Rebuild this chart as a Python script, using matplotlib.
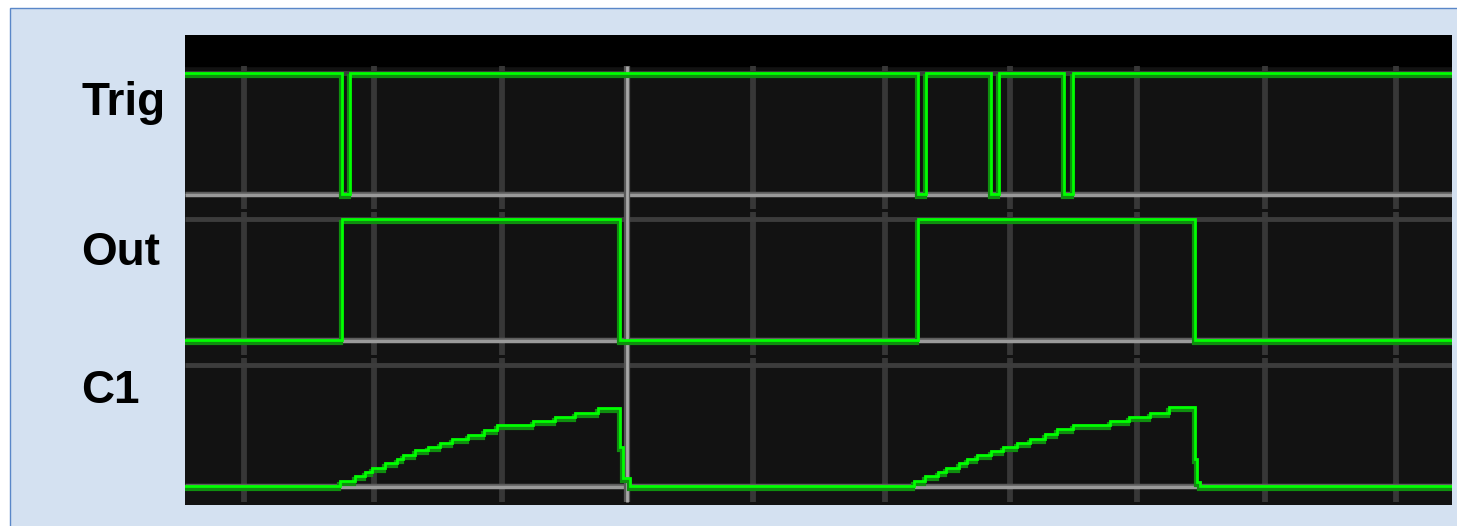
import matplotlib
matplotlib.use("Agg")
import matplotlib.pyplot as plt
from matplotlib.patches import Rectangle
import matplotlib.transforms as mtransforms

# time axis (grid division ~ 10 units)
t_start, t_end = -4.6, 94.4
grid_t = [0, 10.2, 20.2, 39.8, 50.1, 59.9, 69.8, 79.8, 90.0]
cursor_t = 29.9

# Trig: high with short low pulses
trig_t = [t_start, 7.7, 8.3, 52.7, 53.3, 58.4, 59.0, 64.1, 64.8, t_end]
trig_v = [1, 0, 1, 0, 1, 0, 1, 0, 1, 1]

# Out: one-shot output
out_t = [t_start, 7.7, 29.4, 52.7, 74.3, t_end]
out_v = [0, 1, 0, 1, 0, 0]

# C1: capacitor voltage (fraction of row full scale), staircase
c1_t = [t_start, 7.5, 8.7, 9.5, 10.0, 11.0, 12.0, 12.4, 13.4, 14.4, 15.3, 16.3,
        17.5, 18.8, 19.8, 22.6, 24.3, 25.9, 27.7, 29.4, 29.6, 30.2,
        52.4, 53.2, 54.2, 54.9, 55.9, 56.5, 57.3, 58.4, 59.3, 60.4, 61.4,
        62.6, 63.5, 64.8, 67.7, 69.2, 70.8, 72.3, 74.3, 74.5, 74.7, t_end]
c1_v = [0, 0.04, 0.083, 0.116, 0.149, 0.19, 0.223, 0.256, 0.298, 0.322, 0.355, 0.388,
        0.421, 0.463, 0.504, 0.537, 0.570, 0.603, 0.645, 0.322, 0.066, 0,
        0.041, 0.083, 0.116, 0.149, 0.19, 0.223, 0.256, 0.289, 0.322, 0.355, 0.388,
        0.43, 0.471, 0.504, 0.537, 0.570, 0.603, 0.653, 0.223, 0.033, 0, 0]

labels = ["Trig", "Out", "C1"]

W, H = 1457, 526
fig = plt.figure(figsize=(W / 100, H / 100), dpi=100, facecolor="white")
fig.patches.append(Rectangle((10 / W, -0.01), 1.0, (H - 8) / H + 0.01,
                             transform=fig.transFigure,
                             facecolor="#d4e1f1", edgecolor="#5a87c8", linewidth=1.0,
                             zorder=-10))

# plot area in pixels: x 185..1452, y 35..505 (from top)
ax = fig.add_axes([185 / W, (H - 505) / H, 1267 / W, 470 / H])
ax.set_zorder(1)
ax.set_facecolor("#121212")
scale = 121.0  # pixels per full-scale unit
ax.set_xlim(t_start, t_end)
ax.set_ylim(0, 470 / scale)
for s in ax.spines.values():
    s.set_visible(False)
ax.set_xticks([])
ax.set_yticks([])

# black strip at top
ax.axhspan((505 - 66) / scale, 470 / scale, color="black", zorder=1)

# row geometry: baseline pixel and panel pixel range
rows = [
    (194, 66, 209),
    (340, 212, 355),
    (486, 358, 502),
]

shadow = mtransforms.offset_copy(ax.transData, fig=fig, x=-1, y=-3, units="dots")

signals = [(trig_t, trig_v), (out_t, out_v), (c1_t, c1_v)]

for i, ((base_px, top_px, bot_px), (ts, vs)) in enumerate(zip(rows, signals)):
    base = (505 - base_px) / scale
    y0 = (505 - bot_px) / scale
    y1 = (505 - top_px) / scale
    # vertical grid segments
    ax.vlines(grid_t, y0, y1, color="#373737", linewidth=4.2, zorder=2)
    # row top and baseline guide lines
    ax.hlines(base + 1, t_start, t_end, color="#3c3c3c", linewidth=3.5, zorder=3)
    ax.hlines(base + 0.012, t_start, t_end, color="#5e5e5e", linewidth=2.5, zorder=3)
    ax.hlines(base - 0.012, t_start, t_end, color="#9a9a9a", linewidth=2.5, zorder=3)
    yv = [base + v for v in vs]
    ax.plot(ts, yv, drawstyle="steps-post", color="#0f8f0f", linewidth=3.0,
            transform=shadow, zorder=5, solid_joinstyle="miter")
    ax.plot(ts, yv, drawstyle="steps-post", color="#00ff00", linewidth=2.0,
            zorder=6, solid_joinstyle="miter")

# cursor line
ax.vlines([cursor_t], 0.025, (505 - 66) / scale, color="#585858", linewidth=4.5, zorder=4)
ax.vlines([cursor_t], 0.025, (505 - 66) / scale, color="#a8a8a8", linewidth=2.0, zorder=4)

# row labels
label_baselines = [115, 265, 403]
for lab, yb in zip(labels, label_baselines):
    fig.text(81 / W, (H - yb) / H, lab, fontsize=33, fontweight="bold",
             family="Liberation Sans", color="black", ha="left", va="baseline")

fig.savefig("out.png", dpi=100, facecolor=fig.get_facecolor())
